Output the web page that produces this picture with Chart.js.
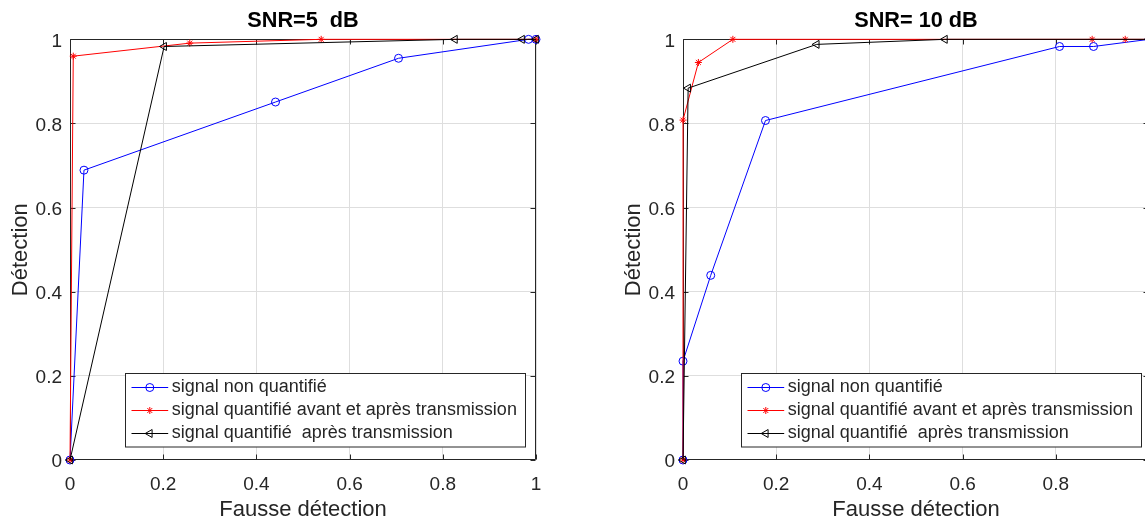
<!DOCTYPE html>
<html>
<head>
<meta charset="utf-8">
<script src="https://cdn.jsdelivr.net/npm/chart.js@4.4.1/dist/chart.umd.min.js"></script>
<style>
html, body { margin: 0; padding: 0; background: #ffffff; overflow: hidden; width: 1145px; height: 526px; }
.wrap { position: absolute; top: 0; width: 560px; height: 526px; }
#w1 { left: 0px; }
#w2 { left: 613px; }
canvas { display: block; }
</style>
</head>
<body>
<div class="wrap" id="w1"><canvas id="c1" width="560" height="526"></canvas></div>
<div class="wrap" id="w2"><canvas id="c2" width="560" height="526"></canvas></div>
<script>
// ---- text ----
const seriesLabels = [
  'signal non quantifié',
  'signal quantifié avant et après transmission',
  'signal quantifié  après transmission'
];
const chartTitles = ['SNR=5  dB', 'SNR= 10 dB'];
const xAxisTitle = 'Fausse détection';
const yAxisTitle = 'Détection';

// ---- ticks ----
const xTickValues = [0, 0.2, 0.4, 0.6, 0.8, 1];
const xTickLabels = ['0', '0.2', '0.4', '0.6', '0.8', '1'];
const yTickValues = [0, 0.2, 0.4, 0.6, 0.8, 1];
const yTickLabels = ['0', '0.2', '0.4', '0.6', '0.8', '1'];

// ---- SNR = 5 dB ----
const snr5NonQuantX    = [0, 0.030, 0.441, 0.705, 0.984, 1];
const snr5NonQuantY    = [0, 0.689, 0.851, 0.955, 1.000, 1];
const snr5AvantApresX  = [0, 0.007, 0.257, 0.539, 1];
const snr5AvantApresY  = [0, 0.960, 0.991, 1.000, 1];
const snr5ApresX       = [0, 0.202, 0.826, 0.970, 1];
const snr5ApresY       = [0, 0.983, 1.000, 1.000, 1];

// ---- SNR = 10 dB ----
const snr10NonQuantX   = [0, 0, 0.0595, 0.177, 0.808, 0.881, 1];
const snr10NonQuantY   = [0, 0.235, 0.439, 0.807, 0.983, 0.983, 1];
const snr10AvantApresX = [0, 0, 0.033, 0.107, 0.878, 0.949, 1];
const snr10AvantApresY = [0, 0.808, 0.945, 1.000, 1.000, 1.000, 1];
const snr10ApresX      = [0, 0.011, 0.287, 0.562, 1];
const snr10ApresY      = [0, 0.884, 0.988, 1.000, 1];

// ---- styling ----
const FONT = '"Liberation Sans", Arial, Helvetica, sans-serif';
const TXT = '#262626';
Chart.defaults.font.family = FONT;

const seriesStyles = [
  { color: '#0000ff', pointStyle: 'circle',   radius: 4,   rotation: 0,   order: 3 },
  { color: '#ff0000', pointStyle: 'star',     radius: 3.5, rotation: 0,   order: 2 },
  { color: '#000000', pointStyle: 'triangle', radius: 4.6, rotation: -90, order: 1 }
];

function zipXY(xs, ys) { return xs.map((x, i) => ({ x: x, y: ys[i] })); }

function makeDatasets(pairs) {
  return pairs.map((p, i) => {
    const s = seriesStyles[i];
    return {
      label: seriesLabels[i],
      data: zipXY(p[0], p[1]),
      showLine: true,
      borderColor: s.color,
      borderWidth: 1,
      backgroundColor: 'rgba(0,0,0,0)',
      pointStyle: s.pointStyle,
      pointRadius: s.radius,
      pointRotation: s.rotation,
      pointBorderColor: s.color,
      pointBackgroundColor: 'rgba(0,0,0,0)',
      pointBorderWidth: 1,
      tension: 0,
      clip: false,
      order: s.order
    };
  });
}

const boxPlugin = {
  id: 'matlabBox',
  beforeDatasetsDraw(chart) {
    const { ctx, chartArea: a, scales } = chart;
    const xs = scales.x, ys = scales.y;
    ctx.save();
    ctx.strokeStyle = TXT;
    ctx.lineWidth = 1;
    const L = Math.round(a.left) + 0.5, R = Math.round(a.right) - 0.5;
    const T = Math.round(a.top) + 0.5, B = Math.round(a.bottom) - 0.5;
    ctx.beginPath();
    ctx.rect(L, T, R - L, B - T);
    xs.ticks.forEach(t => {
      const px = Math.round(xs.getPixelForValue(t.value)) + 0.5;
      ctx.moveTo(px, B); ctx.lineTo(px, B - 5);
      ctx.moveTo(px, T); ctx.lineTo(px, T + 5);
    });
    ys.ticks.forEach(t => {
      const py = Math.round(ys.getPixelForValue(t.value)) + 0.5;
      ctx.moveTo(L, py); ctx.lineTo(L + 5, py);
      ctx.moveTo(R, py); ctx.lineTo(R - 5, py);
    });
    ctx.stroke();
    ctx.restore();
  }
};

const legendPlugin = {
  id: 'insideLegend',
  afterDatasetsDraw(chart, args, opts) {
    const { ctx, chartArea: a } = chart;
    const left = Math.round(a.left + opts.offsetX) + 0.5;
    const top = Math.round(a.bottom - opts.offsetBottom) + 0.5;
    const w = opts.width, h = opts.height;
    ctx.save();
    ctx.fillStyle = '#ffffff';
    ctx.fillRect(left, top, w, h);
    ctx.strokeStyle = TXT;
    ctx.lineWidth = 1;
    ctx.strokeRect(left, top, w, h);
    chart.data.datasets.forEach((ds, i) => {
      const cy = top + 13.8 + i * 22.8;
      const ly = Math.round(cy) + 0.5;
      ctx.strokeStyle = ds.borderColor;
      ctx.lineWidth = 1;
      ctx.beginPath();
      ctx.moveTo(left + 6, ly);
      ctx.lineTo(left + 42.7, ly);
      ctx.stroke();
      ctx.fillStyle = 'rgba(0,0,0,0)';
      Chart.helpers.drawPoint(ctx, {
        pointStyle: ds.pointStyle,
        radius: ds.pointRadius,
        rotation: ds.pointRotation,
        borderWidth: 1
      }, left + 24.3, ly);
      ctx.fillStyle = TXT;
      ctx.font = '18px ' + FONT;
      ctx.textAlign = 'left';
      ctx.textBaseline = 'middle';
      ctx.fillText(ds.label, left + 46.2, cy);
    });
    ctx.restore();
  }
};

function makeChart(canvasId, title, pairs, legendOffsetX) {
  return new Chart(document.getElementById(canvasId), {
    type: 'scatter',
    data: { datasets: makeDatasets(pairs) },
    plugins: [boxPlugin, legendPlugin],
    options: {
      responsive: false,
      animation: false,
      devicePixelRatio: 1,
      events: [],
      layout: { padding: { left: 0, right: 24, top: 0, bottom: 0 } },
      plugins: {
        legend: { display: false },
        tooltip: { enabled: false },
        title: {
          display: true,
          fullSize: false,
          text: title,
          color: '#000000',
          font: { family: FONT, size: 21.7, weight: 'bold', lineHeight: 1.2 },
          padding: { top: 8.2, bottom: 5.1 }
        },
        insideLegend: { offsetX: legendOffsetX, offsetBottom: 86.7, width: 400, height: 73.5 }
      },
      scales: {
        x: {
          type: 'linear',
          min: 0, max: 1,
          afterBuildTicks: s => { s.ticks = xTickValues.map(v => ({ value: v })); },
          afterFit: s => { s.height = 66; },
          ticks: {
            color: TXT, font: { size: 19 }, padding: 13.7, maxRotation: 0, autoSkip: false,
            callback: (v, i) => xTickLabels[i]
          },
          grid: { color: '#dedede', lineWidth: 1, drawTicks: false },
          border: { display: false },
          title: { display: true, text: xAxisTitle, color: TXT, font: { size: 22, lineHeight: 1.2 }, padding: { top: 0, bottom: 3.1 } }
        },
        y: {
          type: 'linear',
          min: 0, max: 1,
          afterBuildTicks: s => { s.ticks = yTickValues.map(v => ({ value: v })); },
          afterFit: s => { s.width = 70; },
          ticks: {
            color: TXT, font: { size: 19 }, padding: 8, labelOffset: 2, autoSkip: false,
            callback: (v, i) => yTickLabels[i]
          },
          grid: { color: '#dedede', lineWidth: 1, drawTicks: false },
          border: { display: false },
          title: { display: true, text: yAxisTitle, color: TXT, font: { size: 22, lineHeight: 1.2 }, padding: { top: 7.5, bottom: 0 } }
        }
      }
    }
  });
}

makeChart('c1', chartTitles[0], [
  [snr5NonQuantX, snr5NonQuantY],
  [snr5AvantApresX, snr5AvantApresY],
  [snr5ApresX, snr5ApresY]
], 55);

makeChart('c2', chartTitles[1], [
  [snr10NonQuantX, snr10NonQuantY],
  [snr10AvantApresX, snr10AvantApresY],
  [snr10ApresX, snr10ApresY]
], 57.7);
</script>
</body>
</html>
